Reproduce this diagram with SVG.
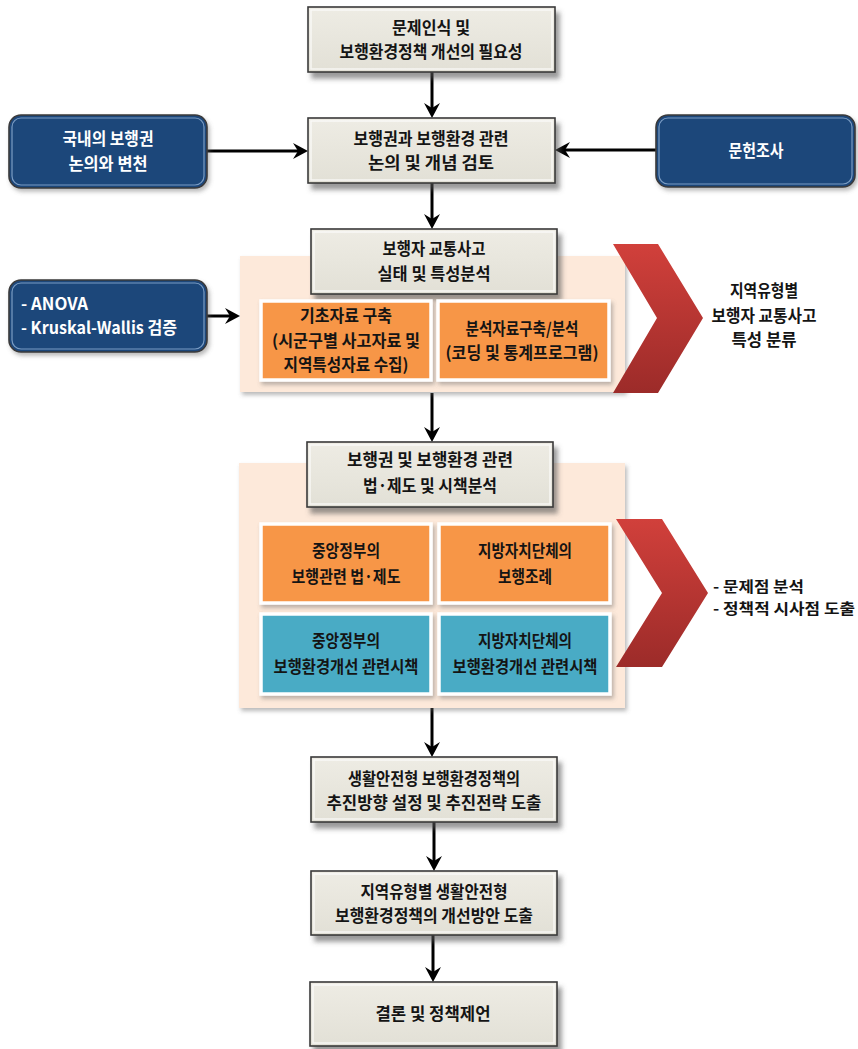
<svg xmlns="http://www.w3.org/2000/svg" width="858" height="1049" viewBox="0 0 858 1049">
<defs>
<style>
.t{font-family:"Noto Sans CJK KR","Noto Sans",sans-serif;font-weight:bold;font-size:16.5px;text-anchor:middle;dominant-baseline:central;fill:#141414}
.s{font-size:15px}
.w{fill:#ffffff}
.beige{fill:url(#gBeige);stroke:#3a3a3a;stroke-width:1.6}
.bev{fill:none;stroke:#ffffff;stroke-opacity:0.7;stroke-width:1.5}
.blue{fill:#1f467a;stroke:#3a3a3a;stroke-width:1.6}
.bbev{fill:none;stroke:#9ab8dc;stroke-opacity:0.75;stroke-width:1.2}
.panel{fill:#fde9da}
.or{fill:#f79646;stroke:#ffffff;stroke-width:3.5}
.tl{fill:#4aabc5;stroke:#ffffff;stroke-width:3.5}
.chev{fill:url(#gRed)}
.conn{stroke:#000;stroke-width:3;fill:none;marker-end:url(#ah)}
</style>
<linearGradient id="gBeige" x1="0" y1="0" x2="0" y2="1">
<stop offset="0" stop-color="#eeece4"/>
<stop offset="1" stop-color="#e2e0d6"/>
</linearGradient>
<linearGradient id="gRed" x1="0" y1="0" x2="0" y2="1">
<stop offset="0" stop-color="#d1403b"/>
<stop offset="1" stop-color="#9c2b29"/>
</linearGradient>
<filter id="sh" x="-10%" y="-20%" width="130%" height="150%">
<feDropShadow dx="4" dy="6" stdDeviation="2.5" flood-color="#555" flood-opacity="0.6"/>
</filter>
<filter id="sh2" x="-10%" y="-10%" width="130%" height="130%">
<feDropShadow dx="2" dy="3" stdDeviation="2" flood-color="#666" flood-opacity="0.45"/>
</filter>
<marker id="ah" markerUnits="userSpaceOnUse" markerWidth="18" markerHeight="18" viewBox="-17 -9 18 18" refX="-8" refY="0" orient="auto">
<path d="M0,0 L-15,-8 L-10,0 L-15,8 Z" fill="#000"/>
</marker>
</defs>

<g id="connectors">
<line class="conn" x1="432" y1="72" x2="432" y2="110"/>
<line class="conn" x1="432" y1="183" x2="432" y2="221"/>
<line class="conn" x1="432" y1="393" x2="432" y2="434"/>
<line class="conn" x1="432" y1="708" x2="432" y2="749"/>
<line class="conn" x1="434" y1="822" x2="434" y2="863"/>
<line class="conn" x1="433" y1="935" x2="433" y2="974"/>
<line class="conn" x1="207" y1="151" x2="300" y2="151"/>
<line class="conn" x1="656" y1="150" x2="563" y2="150"/>
<line class="conn" x1="207" y1="316" x2="232" y2="316"/>
</g>

<g id="panel1">
<rect class="panel" x="240" y="256" width="385" height="136" filter="url(#sh2)"/>
</g>
<g id="panel2">
<rect class="panel" x="239" y="463" width="386" height="245" filter="url(#sh2)"/>
</g>

<g id="n1">
<rect class="beige" x="308" y="7" width="247" height="65" filter="url(#sh)"/>
<rect class="bev" x="311" y="10" width="241" height="59"/>
<text class="t" x="431" y="27" textLength="78" lengthAdjust="spacingAndGlyphs">문제인식 및</text>
<text class="t" x="431" y="51" textLength="183" lengthAdjust="spacingAndGlyphs">보행환경정책 개선의 필요성</text>
</g>

<g id="n2">
<rect class="beige" x="308" y="118" width="247" height="65" filter="url(#sh)"/>
<rect class="bev" x="311" y="121" width="241" height="59"/>
<text class="t" x="431" y="138" textLength="155" lengthAdjust="spacingAndGlyphs">보행권과 보행환경 관련</text>
<text class="t" x="431" y="162" textLength="126" lengthAdjust="spacingAndGlyphs">논의 및 개념 검토</text>
</g>

<g id="nL1">
<rect class="blue" x="9" y="115" width="198" height="73" rx="12" filter="url(#sh2)"/>
<rect class="bbev" x="12" y="118" width="192" height="67" rx="9"/>
<text class="t w" x="108" y="138" textLength="91" lengthAdjust="spacingAndGlyphs">국내의 보행권</text>
<text class="t w" x="108" y="163" textLength="79" lengthAdjust="spacingAndGlyphs">논의와 변천</text>
</g>

<g id="nR1">
<rect class="blue" x="656" y="115" width="199" height="72" rx="12" filter="url(#sh2)"/>
<rect class="bbev" x="659" y="118" width="193" height="66" rx="9"/>
<text class="t w" x="756" y="150" textLength="55" lengthAdjust="spacingAndGlyphs">문헌조사</text>
</g>

<g id="nL2">
<rect class="blue" x="9" y="280" width="198" height="72" rx="12" filter="url(#sh2)"/>
<rect class="bbev" x="12" y="283" width="192" height="66" rx="9"/>
<text class="t w" x="21" y="303" style="text-anchor:start" textLength="67" lengthAdjust="spacingAndGlyphs">- ANOVA</text>
<text class="t w" x="21" y="327" style="text-anchor:start" textLength="156" lengthAdjust="spacingAndGlyphs">- Kruskal-Wallis 검증</text>
</g>

<g id="n3">
<rect class="beige" x="311" y="229" width="246" height="65" filter="url(#sh)"/>
<rect class="bev" x="314" y="232" width="240" height="59"/>
<text class="t" x="434" y="248" textLength="103" lengthAdjust="spacingAndGlyphs">보행자 교통사고</text>
<text class="t" x="434" y="273" textLength="113" lengthAdjust="spacingAndGlyphs">실태 및 특성분석</text>
</g>

<g id="n3a">
<rect class="or" x="261" y="301" width="170" height="79" filter="url(#sh2)"/>
<text class="t" x="346" y="315" textLength="92" lengthAdjust="spacingAndGlyphs">기초자료 구축</text>
<text class="t" x="346" y="340" textLength="148" lengthAdjust="spacingAndGlyphs">(시군구별 사고자료 및</text>
<text class="t" x="346" y="364" textLength="125" lengthAdjust="spacingAndGlyphs">지역특성자료 수집)</text>
</g>

<g id="n3b">
<rect class="or" x="438" y="301" width="171" height="79" filter="url(#sh2)"/>
<text class="t" x="522" y="328" textLength="113" lengthAdjust="spacingAndGlyphs">분석자료구축/분석</text>
<text class="t" x="522" y="352" textLength="153" lengthAdjust="spacingAndGlyphs">(코딩 및 통계프로그램)</text>
</g>

<g id="chev1">
<polygon class="chev" points="613,244 658,244 703,318 658,393 613,393 657,318"/>
</g>
<g id="res1">
<text class="t" x="764" y="290" textLength="68" lengthAdjust="spacingAndGlyphs">지역유형별</text>
<text class="t" x="764" y="315" textLength="105" lengthAdjust="spacingAndGlyphs">보행자 교통사고</text>
<text class="t" x="764" y="339" textLength="65" lengthAdjust="spacingAndGlyphs">특성 분류</text>
</g>

<g id="n4">
<rect class="beige" x="307" y="442" width="246" height="65" filter="url(#sh)"/>
<rect class="bev" x="310" y="445" width="240" height="59"/>
<text class="t" x="430" y="459" textLength="166" lengthAdjust="spacingAndGlyphs">보행권 및 보행환경 관련</text>
<text class="t" x="430" y="485" textLength="134" lengthAdjust="spacingAndGlyphs">법·제도 및 시책분석</text>
</g>

<g id="n4a">
<rect class="or" x="261" y="524" width="170" height="79" filter="url(#sh2)"/>
<text class="t" x="346" y="550" textLength="68" lengthAdjust="spacingAndGlyphs">중앙정부의</text>
<text class="t" x="346" y="576" textLength="109" lengthAdjust="spacingAndGlyphs">보행관련 법·제도</text>
</g>
<g id="n4b">
<rect class="or" x="439" y="524" width="171" height="79" filter="url(#sh2)"/>
<text class="t" x="525" y="550" textLength="94" lengthAdjust="spacingAndGlyphs">지방자치단체의</text>
<text class="t" x="525" y="576" textLength="54" lengthAdjust="spacingAndGlyphs">보행조례</text>
</g>
<g id="n4c">
<rect class="tl" x="261" y="614" width="170" height="80" filter="url(#sh2)"/>
<text class="t" x="346" y="640" textLength="68" lengthAdjust="spacingAndGlyphs">중앙정부의</text>
<text class="t" x="346" y="666" textLength="145" lengthAdjust="spacingAndGlyphs">보행환경개선 관련시책</text>
</g>
<g id="n4d">
<rect class="tl" x="439" y="614" width="171" height="80" filter="url(#sh2)"/>
<text class="t" x="525" y="640" textLength="94" lengthAdjust="spacingAndGlyphs">지방자치단체의</text>
<text class="t" x="525" y="666" textLength="145" lengthAdjust="spacingAndGlyphs">보행환경개선 관련시책</text>
</g>

<g id="chev2">
<polygon class="chev" points="616,519 662,519 708,593 662,667 616,667 662,593"/>
</g>
<g id="res2">
<text class="t s" x="713" y="585" style="text-anchor:start" textLength="91" lengthAdjust="spacingAndGlyphs">- 문제점 분석</text>
<text class="t s" x="713" y="607" style="text-anchor:start" textLength="142" lengthAdjust="spacingAndGlyphs">- 정책적 시사점 도출</text>
</g>

<g id="n5">
<rect class="beige" x="311" y="757" width="246" height="65" filter="url(#sh)"/>
<rect class="bev" x="314" y="760" width="240" height="59"/>
<text class="t" x="434" y="778" textLength="172" lengthAdjust="spacingAndGlyphs">생활안전형 보행환경정책의</text>
<text class="t" x="434" y="802" textLength="215" lengthAdjust="spacingAndGlyphs">추진방향 설정 및 추진전략 도출</text>
</g>

<g id="n6">
<rect class="beige" x="311" y="871" width="246" height="64" filter="url(#sh)"/>
<rect class="bev" x="314" y="874" width="240" height="58"/>
<text class="t" x="434" y="891" textLength="147" lengthAdjust="spacingAndGlyphs">지역유형별 생활안전형</text>
<text class="t" x="434" y="915" textLength="198" lengthAdjust="spacingAndGlyphs">보행환경정책의 개선방안 도출</text>
</g>

<g id="n7">
<rect class="beige" x="310" y="982" width="247" height="64" filter="url(#sh)"/>
<rect class="bev" x="313" y="985" width="241" height="58"/>
<text class="t" x="433" y="1013" textLength="115" lengthAdjust="spacingAndGlyphs">결론 및 정책제언</text>
</g>
</svg>
